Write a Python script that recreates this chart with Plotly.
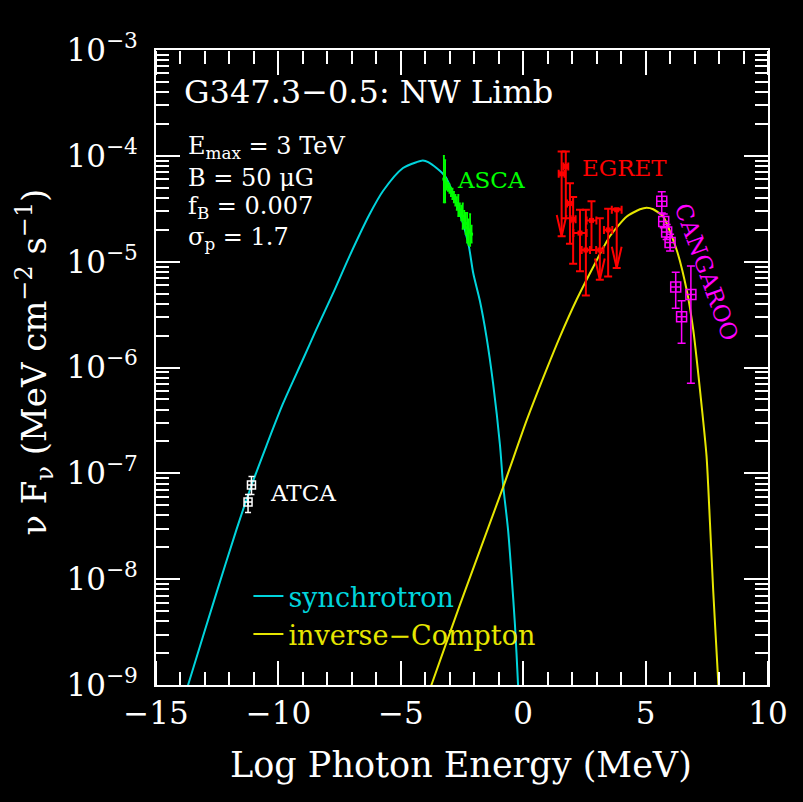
import numpy as np
import plotly.graph_objects as go

# ---------------- data (x: log10 photon energy [MeV], y: log10 nuFnu) -------------
sync_logE = [-13.95, -13.69, -12.53, -11.71, -11.17, -10.49, -9.81, -8.99, -8.45, -7.77,
             -7.08, -6.27, -5.72, -4.91, -4.36, -4.10, -3.88, -3.20, -2.79, -2.25, -2.04,
             -1.77, -1.50, -1.23, -0.95, -0.82, -0.62, -0.48, -0.34, -0.21, -0.18]
sync_logF = [-9.20, -9.00, -8.13, -7.53, -7.16, -6.74, -6.34, -5.92, -5.64, -5.30,
             -4.94, -4.55, -4.33, -4.115, -4.06, -4.045, -4.06, -4.19, -4.41, -4.82, -5.11,
             -5.37, -5.71, -6.15, -6.73, -7.11, -7.53, -7.95, -8.42, -9.00, -9.20]

ic_logE = [-3.95, -3.75, -2.59, -0.82, 0.14, 0.95, 1.50, 2.18, 2.86, 3.54, 4.22, 4.77,
           5.04, 5.31, 5.72, 6.27, 6.68, 6.95, 7.22, 7.49, 7.63, 7.76, 7.97, 8.02]
ic_logF = [-9.13, -9.00, -8.245, -7.13, -6.50, -6.02, -5.71, -5.36, -5.05, -4.76, -4.575, -4.505,
           -4.49, -4.505, -4.575, -4.89, -5.27, -5.65, -6.21, -6.84, -7.47, -8.10, -8.98, -9.20]

atca_logE = [-11.10, -11.24]
atca_logF = [-7.11, -7.27]
atca_up = [-7.03, -7.20]
atca_dn = [-7.20, -7.37]

asca_logE = [-3.24, -3.19, -3.13, -3.07, -3.01, -2.95, -2.89, -2.83, -2.77, -2.71,
             -2.65, -2.59, -2.53, -2.47, -2.41, -2.35, -2.29, -2.23, -2.17, -2.11]
asca_logF = [-4.22, -4.24, -4.27, -4.29, -4.31, -4.34, -4.36, -4.39, -4.42, -4.45,
             -4.47, -4.51, -4.54, -4.57, -4.60, -4.64, -4.68, -4.72, -4.70, -4.74]
asca_err = [0.22, 0.20, 0.05, 0.04, 0.04, 0.04, 0.05, 0.05, 0.05, 0.06,
            0.10, 0.06, 0.07, 0.12, 0.08, 0.10, 0.14, 0.12, 0.15, 0.08]

egret_logE = [1.57, 1.74, 1.91, 2.04, 2.32, 2.56, 2.79, 3.13, 3.47, 3.82]
egret_logF = [-4.17, -4.10, -4.45, -4.60, -4.73, -4.89, -4.61, -4.89, -4.70, -4.51]
egret_up = [-3.96, -3.96, -4.26, -4.39, -4.51, -4.51, -4.43, -4.59, -4.50, -4.50]
egret_dn = [-4.76, -4.59, -4.83, -5.02, -5.09, -5.32, -4.89, -5.17, -5.14, -5.06]
egret_xerr = [0.12, 0.10, 0.12, 0.10, 0.27, 0.17, 0.20, 0.15, 0.17, 0.20]
egret_arrow = [True, False, False, False, False, False, False, True, False, True]

cang_logE = [5.66, 5.74, 5.86, 6.00, 6.23, 6.47, 6.85]
cang_logF = [-4.43, -4.62, -4.72, -4.82, -5.24, -5.52, -5.31]
cang_up = [-4.34, -4.55, -4.65, -4.74, -5.10, -5.37, -5.04]
cang_dn = [-4.54, -4.68, -4.79, -4.90, -5.44, -5.77, -6.15]

x_major = [-15, -10, -5, 0, 5, 10]
x_ticktext = ["\u221215", "\u221210", "\u22125", "0", "5", "10"]
x_minor = list(range(-15, 11))
y_decades = [-9, -8, -7, -6, -5, -4, -3]

# ---------------- helpers ----------------
FONT = "DejaVu Serif"
CYAN = "#00d4dc"
YELLOW = "#e6e600"
NB = "\u00a0"


def pw(v):
    return 10.0 ** np.asarray(v, dtype=float)


def errs(c, up, dn):
    c, up, dn = pw(c), pw(up), pw(dn)
    return up - c, c - dn


fig = go.Figure()

fig.add_trace(go.Scatter(x=sync_logE, y=pw(sync_logF), mode="lines",
                         line=dict(color=CYAN, width=2, shape="spline", smoothing=0.8),
                         name="<span style='color:%s'>synchrotron</span>" % CYAN))
fig.add_trace(go.Scatter(x=ic_logE, y=pw(ic_logF), mode="lines",
                         line=dict(color=YELLOW, width=2, shape="spline", smoothing=0.6),
                         name="<span style='color:%s'>inverse\u2212Compton</span>" % YELLOW))

# ATCA
u, d = errs(atca_logF, atca_up, atca_dn)
fig.add_trace(go.Scatter(x=atca_logE, y=pw(atca_logF), mode="markers", showlegend=False,
                         marker=dict(symbol="square-cross-open", size=8, color="white",
                                     line=dict(width=1.5, color="white")),
                         error_y=dict(type="data", symmetric=False, array=u, arrayminus=d,
                                      color="white", thickness=1.5, width=3)))

# ASCA
a = np.asarray(asca_err)
u, d = errs(asca_logF, np.asarray(asca_logF) + a, np.asarray(asca_logF) - a)
fig.add_trace(go.Scatter(x=asca_logE, y=pw(asca_logF), mode="markers", showlegend=False,
                         marker=dict(symbol="square", size=3, color="#00ff00"),
                         error_y=dict(type="data", symmetric=False, array=u, arrayminus=d,
                                      color="#00ff00", thickness=1.8, width=1),
                         error_x=dict(type="constant", value=0.03, color="#00ff00",
                                      thickness=1.5, width=0)))

# EGRET
u, d = errs(egret_logF, egret_up, egret_dn)
fig.add_trace(go.Scatter(x=egret_logE, y=pw(egret_logF), mode="markers", showlegend=False,
                         marker=dict(symbol="square", size=5, color="#ff0000"),
                         error_y=dict(type="data", symmetric=False, array=u, arrayminus=d,
                                      color="#ff0000", thickness=2, width=4),
                         error_x=dict(type="data", array=egret_xerr, color="#ff0000",
                                      thickness=2, width=4)))
# arrow heads on the lower limits
ax_, ay_ = [], []
for xe, dn, flag in zip(egret_logE, egret_dn, egret_arrow):
    if flag:
        ax_ += [xe - 0.2, xe, xe + 0.2, None]
        ay_ += [10 ** (dn + 0.2), 10 ** dn, 10 ** (dn + 0.2), None]
fig.add_trace(go.Scatter(x=ax_, y=ay_, mode="lines", showlegend=False,
                         line=dict(color="#ff0000", width=2)))

# CANGAROO
u, d = errs(cang_logF, cang_up, cang_dn)
fig.add_trace(go.Scatter(x=cang_logE, y=pw(cang_logF), mode="markers", showlegend=False,
                         marker=dict(symbol="square-cross-open", size=10, color="#ff00ff",
                                     line=dict(width=1.5, color="#ff00ff")),
                         error_y=dict(type="data", symmetric=False, array=u, arrayminus=d,
                                      color="#ff00ff", thickness=1.5, width=4)))

# empty traces that bind the extra tick-only axes
for xa, ya in [("x2", "y2"), ("x3", "y"), ("x4", "y"), ("x5", "y")]:
    fig.add_trace(go.Scatter(x=[None], y=[None], xaxis=xa, yaxis=ya, mode="markers",
                             showlegend=False, hoverinfo="skip"))

# ---------------- annotations ----------------
ann = []


def text(x, y, s, color="white", size=23, xref="x", yref="y", xanchor="left", angle=0):
    ann.append(dict(x=x, y=y, xref=xref, yref=yref, text=s, showarrow=False,
                    xanchor=xanchor, yanchor="middle", textangle=angle,
                    font=dict(family=FONT, size=size, color=color)))


text(0.043, 0.934, "G347.3\u22120.5: NW Limb", size=32, xref="paper", yref="paper")
text(0.049, 0.847, "E<sub>max</sub> = 3 TeV", size=24, xref="paper", yref="paper")
text(0.049, 0.799, "B = 50 \u03bcG", size=24, xref="paper", yref="paper")
text(0.049, 0.752, "f<sub>B</sub> = 0.007", size=24, xref="paper", yref="paper")
text(0.049, 0.703, "\u03c3<sub>p</sub> = 1.7", size=24, xref="paper", yref="paper")
text(-2.79, -4.23, "ASCA", color="#00ff00")
text(2.32, -4.114, "EGRET", color="#ff0000")
text(7.48, -5.10, "CANGAROO", color="#ff00ff", xanchor="center", angle=70)
text(-10.43, -7.19, "ATCA", color="white")
# axis titles
text(0.4987, -0.126, "Log Photon Energy (MeV)", size=35, xref="paper", yref="paper",
     xanchor="center")
text(-0.198, 0.509, "\u03bd F<sub>\u03bd</sub> (MeV cm<sup>\u22122</sup> s<sup>\u22121</sup>)",
     size=34, xref="paper", yref="paper", xanchor="center", angle=-90)

# tick positions
y_all = [k * 10.0 ** n for n in range(-9, -3) for k in range(1, 10)] + [1e-3]
y_all_text = [("10<sup>\u2212%d</sup>%s" % (-round(np.log10(v)), NB))
              if abs(np.log10(v) - round(np.log10(v))) < 1e-9 else "" for v in y_all]
y_major = [10.0 ** p for p in y_decades]

TW = 2
base = dict(showgrid=False, zeroline=False, tickcolor="#ffffff", tickwidth=TW)


def xticks_axis(vals, length, side, pos):
    # tick-only x axis; outside ticks of a flipped side point into the plot
    return dict(overlaying="x", anchor="free", position=pos, side=side,
                range=[-15, 10], tickmode="array", tickvals=vals, ticks="outside",
                ticklen=length, showticklabels=False, showline=False, **base)


fig.update_layout(
    width=803, height=802,
    margin=dict(l=156, r=35, t=50, b=117),
    paper_bgcolor="black", plot_bgcolor="black",
    font=dict(family=FONT, color="white", size=31),
    annotations=ann,
    showlegend=True,
    legend=dict(x=0.151, y=0.178, xanchor="left", yanchor="top",
                bgcolor="rgba(0,0,0,0)", font=dict(family=FONT, size=27, color="white"),
                tracegroupgap=0),
    xaxis=dict(range=[-15, 10], tickmode="array", tickvals=x_major, ticktext=x_ticktext,
               ticks="", showline=True, linecolor="white", linewidth=2, mirror=True,
               tickfont=dict(family=FONT, size=31, color="white"), **base),
    xaxis2=xticks_axis(x_minor, 13, "top", 0),
    xaxis3=xticks_axis(x_major, 24, "top", 0),
    xaxis4=xticks_axis(x_minor, 13, "bottom", 1),
    xaxis5=xticks_axis(x_major, 24, "bottom", 1),
    yaxis=dict(type="log", range=[-9, -3], tickmode="array", tickvals=y_all,
               ticktext=y_all_text, ticks="inside", ticklen=13,
               showline=True, linecolor="white", linewidth=2, mirror="ticks",
               tickfont=dict(family=FONT, size=31, color="white"), **base),
    yaxis2=dict(overlaying="y", anchor="x", side="left", type="log", range=[-9, -3],
                tickmode="array", tickvals=y_major, ticks="inside", ticklen=24,
                showticklabels=False, showline=True, linecolor="white", linewidth=2,
                mirror="ticks", **base),
)

fig.write_html("out.html")
